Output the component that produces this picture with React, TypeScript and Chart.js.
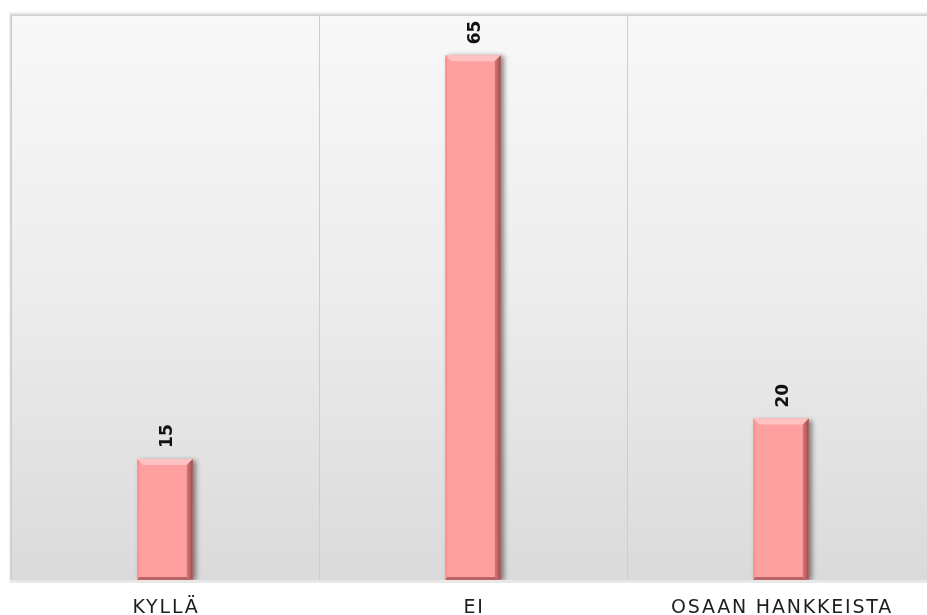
import React, { useEffect, useRef } from "react";
import { Chart, registerables } from "chart.js";

Chart.register(...registerables);

const categories: string[] = ["KYLLÄ", "EI", "OSAAN HANKKEISTA"];
const values: number[] = [15, 65, 20];
const yMax = 70;

const decorPlugin = {
  id: "decor",
  beforeDraw(chart: any) {
    const { ctx, chartArea } = chart;
    const { left, top, right, bottom } = chartArea;
    ctx.save();
    ctx.fillStyle = "#ffffff";
    ctx.fillRect(0, 0, chart.width, chart.height);
    ctx.fillStyle = "rgba(0,0,0,0.06)";
    ctx.fillRect(left - 2, top - 3, right - left + 4, bottom - top + 6);
    const g = ctx.createLinearGradient(0, top, 0, bottom);
    g.addColorStop(0, "#f8f8f8");
    g.addColorStop(0.5, "#ececec");
    g.addColorStop(1, "#dadada");
    ctx.fillStyle = g;
    ctx.fillRect(left, top, right - left, bottom - top);
    ctx.strokeStyle = "#d4d4d4";
    ctx.lineWidth = 2;
    ctx.beginPath();
    ctx.moveTo(left, top);
    ctx.lineTo(right, top);
    ctx.stroke();
    ctx.strokeStyle = "#d8d8d8";
    ctx.beginPath();
    ctx.moveTo(left, top);
    ctx.lineTo(left, bottom);
    ctx.stroke();
    ctx.strokeStyle = "#e8e8e8";
    ctx.lineWidth = 3;
    ctx.beginPath();
    ctx.moveTo(left, bottom + 1.5);
    ctx.lineTo(right, bottom + 1.5);
    ctx.stroke();
    ctx.restore();
  },
  beforeDatasetDraw(chart: any) {
    const ctx = chart.ctx;
    ctx.save();
    ctx.shadowColor = "rgba(0,0,0,0.45)";
    ctx.shadowBlur = 5;
    ctx.shadowOffsetX = 3;
    ctx.shadowOffsetY = 1;
  },
  afterDatasetDraw(chart: any) {
    const ctx = chart.ctx;
    ctx.restore();
    const meta = chart.getDatasetMeta(0);
    meta.data.forEach((bar: any, i: number) => {
      const { x, y, base, width } = bar.getProps(["x", "y", "base", "width"], true);
      const l = x - width / 2;
      const r = x + width / 2;
      const b = 6;
      ctx.save();
      ctx.fillStyle = "#ffc2c2";
      ctx.beginPath();
      ctx.moveTo(l, y);
      ctx.lineTo(r, y);
      ctx.lineTo(r - b, y + b);
      ctx.lineTo(l + b, y + b);
      ctx.closePath();
      ctx.fill();
      ctx.fillStyle = "#ff9090";
      ctx.beginPath();
      ctx.moveTo(l, y);
      ctx.lineTo(l + 2, y + 2);
      ctx.lineTo(l + 2, base - 2);
      ctx.lineTo(l, base);
      ctx.closePath();
      ctx.fill();
      const rg = ctx.createLinearGradient(r - b, 0, r, 0);
      rg.addColorStop(0, "#d77a7a");
      rg.addColorStop(1, "#9c4c4c");
      ctx.fillStyle = rg;
      ctx.beginPath();
      ctx.moveTo(r, y);
      ctx.lineTo(r - b, y + b);
      ctx.lineTo(r - b, base - 3);
      ctx.lineTo(r, base);
      ctx.closePath();
      ctx.fill();
      ctx.fillStyle = "#b86464";
      ctx.beginPath();
      ctx.moveTo(l, base);
      ctx.lineTo(l + 2, base - 3);
      ctx.lineTo(r - b, base - 3);
      ctx.lineTo(r, base);
      ctx.closePath();
      ctx.fill();
      ctx.translate(x + 3, y - 11);
      ctx.rotate(-Math.PI / 2);
      ctx.fillStyle = "#111111";
      ctx.font = "bold 17px 'DejaVu Sans'";
      ctx.textAlign = "left";
      ctx.textBaseline = "middle";
      ctx.fillText(String(values[i]), 0, 0);
      ctx.restore();
    });
  },
  afterDraw(chart: any) {
    const { ctx } = chart;
    const xs = chart.scales.x;
    ctx.save();
    ctx.fillStyle = "#1e1e1e";
    ctx.font = "19px 'DejaVu Sans'";
    (ctx as any).letterSpacing = "1.8px";
    ctx.textAlign = "center";
    ctx.textBaseline = "alphabetic";
    categories.forEach((c, i) => {
      ctx.fillText(c, xs.getPixelForValue(i) + 1, 613);
    });
    ctx.restore();
  },
};

export default function App() {
  const ref = useRef<HTMLCanvasElement | null>(null);
  useEffect(() => {
    if (!ref.current) return;
    const chart = new Chart(ref.current, {
      type: "bar",
      data: {
        labels: categories,
        datasets: [
          {
            data: values,
            backgroundColor: "#ffa0a0",
            borderWidth: 0,
            barPercentage: 0.18,
            categoryPercentage: 1,
          },
        ],
      },
      options: {
        animation: false,
        responsive: true,
        maintainAspectRatio: false,
        layout: { padding: { left: 11, top: 15, right: 1, bottom: 35 } },
        plugins: { legend: { display: false }, tooltip: { enabled: false } },
        scales: {
          x: {
            offset: true,
            grid: { display: true, offset: true, color: "#cdcdcd", drawTicks: false },
            border: { display: false },
            ticks: { display: false },
          },
          y: {
            display: false,
            min: 0,
            max: yMax,
          },
        },
      },
      plugins: [decorPlugin],
    });
    return () => chart.destroy();
  }, []);
  return (
    <div style={{ position: "fixed", left: 0, top: 0, width: 927, height: 615, overflow: "hidden", background: "#fff" }}>
      <div style={{ position: "relative", width: 936, height: 615 }}>
        <canvas ref={ref} />
      </div>
    </div>
  );
}
